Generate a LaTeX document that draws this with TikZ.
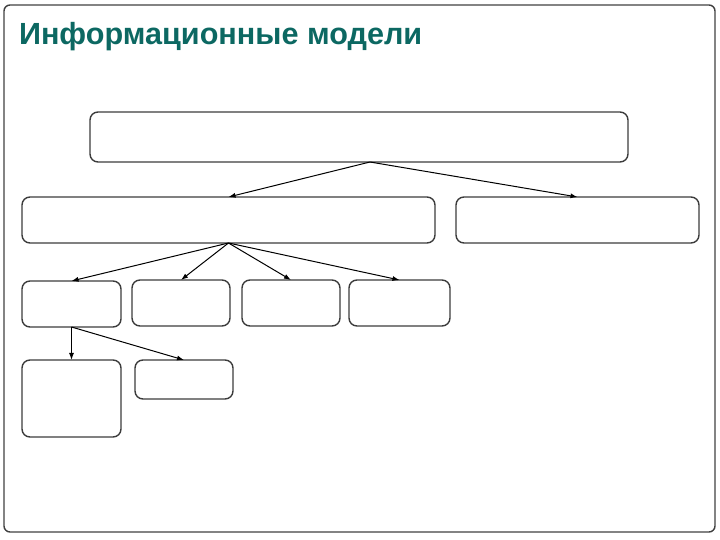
\documentclass[tikz,border=0pt]{standalone}
\usepackage{fontspec}
\setmainfont{Liberation Sans}
\usepackage{xcolor}
\usetikzlibrary{positioning, arrows.meta}
\definecolor{titleteal}{RGB}{12,104,98}
\definecolor{boxgray}{RGB}{60,60,60}

\begin{document}
\begin{tikzpicture}[x=0.5pt, y=-0.5pt,
    every node/.style={inner sep=0pt, outer sep=0pt},
    modelbox/.style={rectangle, rounded corners=4pt, draw=boxgray, line width=0.7pt, fill=white},
    link/.style={-{Latex[length=3.5pt, width=2.5pt]}, line width=0.5pt, black}]
        \useasboundingbox (0,0) rectangle (720,540);
        \draw[rounded corners=3pt, draw=black!75, line width=0.7pt] (4,5) rectangle (715,532);
        \node[anchor=base west, font=\fontsize{15.3}{18}\selectfont\bfseries, text=titleteal] (title) at (19,45) {Информационные модели};
        % Levels of the tree
        \node[modelbox, minimum width=269pt, minimum height=25pt] (top) at (359,137) {};
        \node[modelbox, minimum width=206.5pt, minimum height=23pt] (left) at (228.5,220) {};
        \node[modelbox, minimum width=121.5pt, minimum height=23pt] (right) at (577.5,220) {};
        \node[modelbox, minimum width=49.5pt, minimum height=23pt] (kind1) at (71.5,304) {};
        \node[modelbox, minimum width=49pt, minimum height=23pt] (kind2) at (181,303) {};
        \node[modelbox, minimum width=49pt, minimum height=23pt] (kind3) at (291,303) {};
        \node[modelbox, minimum width=50.5pt, minimum height=23pt] (kind4) at (399.5,303) {};
        \node[modelbox, minimum width=49.5pt, minimum height=38.5pt] (sub1) at (71.5,398.5) {};
        \node[modelbox, minimum width=49pt, minimum height=19.5pt] (sub2) at (184,379.5) {};
        % Arrows between levels
        \coordinate (fork) at ([xshift=5.5pt]top.south);
        \draw[link] (fork) -- (left.north);
        \draw[link] (fork) -- (right.north);
        \foreach \k in {kind1, kind2, kind3, kind4}
            \draw[link] (left.south) -- (\k.north);
        \draw[link] (kind1.south) -- (sub1.north);
        \draw[link] (kind1.south) -- (sub2.north);
    \end{tikzpicture}
\end{document}
